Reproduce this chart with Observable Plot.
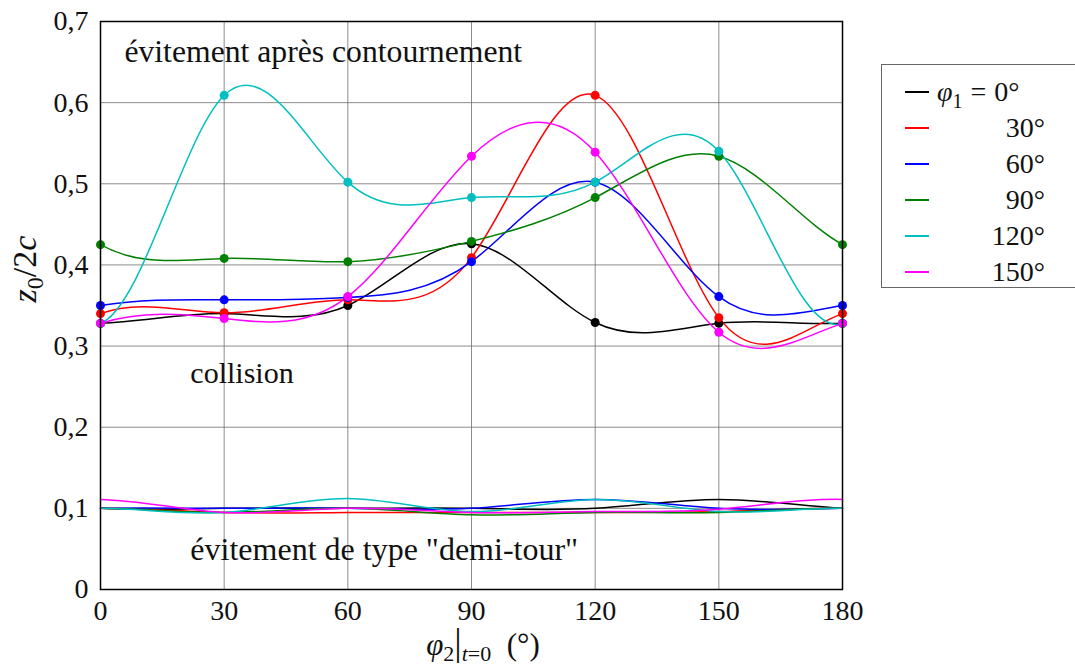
<!DOCTYPE html>
<html>
<head>
<meta charset="utf-8">
<script src="https://cdn.jsdelivr.net/npm/d3@7"></script>
<script src="https://cdn.jsdelivr.net/npm/@observablehq/plot@0.6"></script>
<style>
  html, body { margin: 0; padding: 0; background: #fff; }
  #wrap { position: relative; width: 1075px; height: 669px; overflow: hidden; font-family: 'Liberation Serif'; color: #111; }
  #legend { position: absolute; left: 881px; top: 64px; width: 230px; height: 224px; border: 1.5px solid #666; box-sizing: border-box; font-family: 'Liberation Serif'; }
  .row { position: absolute; left: 0; height: 36px; width: 200px; }
  .swatch { position: absolute; left: 23px; width: 24px; height: 1.5px; }
  .lab { position: absolute; font-size: 28px; white-space: nowrap; line-height: 36px; font-family: 'Liberation Serif'; }
  svg text { font-family: 'Liberation Serif'; }
</style>
</head>
<body>
<div id="wrap"></div>
<script>
// phi2 at t=0 (degrees)
const phi2 = [0, 30, 60, 90, 120, 150, 180];
// phi1 series
const phi1 = [0, 30, 60, 90, 120, 150];
const colors = ["#000000", "#ff0000", "#0000ff", "#008000", "#00bfbf", "#ff00ff"];

// upper branch (with markers)
const upper0   = [0.328, 0.340, 0.350, 0.426, 0.329, 0.328, 0.328];
const upper30  = [0.340, 0.341, 0.357, 0.409, 0.609, 0.335, 0.340];
const upper60  = [0.350, 0.357, 0.360, 0.404, 0.502, 0.361, 0.350];
const upper90  = [0.425, 0.408, 0.404, 0.429, 0.483, 0.534, 0.425];
const upper120 = [0.328, 0.609, 0.502, 0.483, 0.502, 0.540, 0.328];
const upper150 = [0.328, 0.334, 0.361, 0.534, 0.539, 0.317, 0.328];

// lower branch ("demi-tour"), no markers
const lower0   = [0.100, 0.100, 0.100, 0.100, 0.100, 0.111, 0.100];
const lower30  = [0.100, 0.095, 0.095, 0.095, 0.095, 0.096, 0.100];
const lower60  = [0.100, 0.100, 0.100, 0.100, 0.111, 0.100, 0.100];
const lower90  = [0.100, 0.095, 0.100, 0.092, 0.095, 0.095, 0.100];
const lower120 = [0.100, 0.095, 0.112, 0.096, 0.111, 0.096, 0.100];
const lower150 = [0.111, 0.095, 0.100, 0.095, 0.096, 0.099, 0.111];

const yTicks = [0, 0.1, 0.2, 0.3, 0.4, 0.5, 0.6, 0.7];
const xTicks = [0, 30, 60, 90, 120, 150, 180];

const uppers = [upper0, upper30, upper60, upper90, upper120, upper150];
const lowers = [lower0, lower30, lower60, lower90, lower120, lower150];

const upperData = [];
const lowerData = [];
phi1.forEach((p, i) => {
  phi2.forEach((x, j) => {
    upperData.push({series: i, x, y: uppers[i][j]});
    lowerData.push({series: i, x, y: lowers[i][j]});
  });
});

// periodic cubic spline as a d3 curve factory
function solve(A, b) {
  const n = b.length;
  for (let k = 0; k < n; k++) {
    let p = k;
    for (let i = k + 1; i < n; i++) if (Math.abs(A[i][k]) > Math.abs(A[p][k])) p = i;
    [A[k], A[p]] = [A[p], A[k]]; [b[k], b[p]] = [b[p], b[k]];
    for (let i = k + 1; i < n; i++) {
      const f = A[i][k] / A[k][k];
      for (let j = k; j < n; j++) A[i][j] -= f * A[k][j];
      b[i] -= f * b[k];
    }
  }
  const x = new Array(n).fill(0);
  for (let i = n - 1; i >= 0; i--) {
    let s = b[i];
    for (let j = i + 1; j < n; j++) s -= A[i][j] * x[j];
    x[i] = s / A[i][i];
  }
  return x;
}
function curvePeriodic(context) {
  let xs, ys;
  return {
    areaStart() {}, areaEnd() {},
    lineStart() { xs = []; ys = []; },
    point(x, y) { xs.push(+x); ys.push(+y); },
    lineEnd() {
      const n = xs.length;
      if (n === 0) return;
      context.moveTo(xs[0], ys[0]);
      if (n < 4) { for (let i = 1; i < n; i++) context.lineTo(xs[i], ys[i]); return; }
      const h = [], d = [];
      for (let i = 0; i < n - 1; i++) { h.push(xs[i + 1] - xs[i]); d.push((ys[i + 1] - ys[i]) / h[i]); }
      const N = n - 1;
      const A = Array.from({length: N}, () => new Array(N).fill(0));
      const b = new Array(N).fill(0);
      for (let i = 0; i < N; i++) {
        const ip = (i - 1 + N) % N, inx = (i + 1) % N;
        const hp = h[ip], hc = h[i];
        A[i][ip] += hc; A[i][i] += 2 * (hp + hc); A[i][inx] += hp;
        b[i] = 3 * (hc * d[ip] + hp * d[i]);
      }
      const m = solve(A, b);
      m.push(m[0]);
      for (let i = 0; i < n - 1; i++) {
        const t = h[i] / 3;
        context.bezierCurveTo(xs[i] + t, ys[i] + m[i] * t, xs[i + 1] - t, ys[i + 1] - m[i + 1] * t, xs[i + 1], ys[i + 1]);
      }
    }
  };
}

const fmt = d => d === 0 ? "0" : d.toFixed(1).replace(".", ",");
const FONT = "Liberation Serif";

const plot = Plot.plot({
  width: 1075,
  height: 669,
  marginLeft: 100,
  marginRight: 233,
  marginTop: 21,
  marginBottom: 80,
  style: {fontFamily: FONT, fontSize: "28px", color: "#111", background: "transparent", overflow: "visible"},
  x: {domain: [0, 180], ticks: xTicks, tickFormat: d => String(d), tickSize: 0, tickPadding: 11, label: null},
  y: {domain: [0, 0.7], ticks: yTicks, tickFormat: fmt, tickSize: 0, tickPadding: 12, label: null},
  marks: [
    Plot.gridX(xTicks.slice(1, -1), {stroke: "#6f6f6f", strokeOpacity: 0.8, strokeWidth: 1}),
    Plot.gridY(yTicks.slice(1, -1), {stroke: "#6f6f6f", strokeOpacity: 0.8, strokeWidth: 1}),
    Plot.line(lowerData, {x: "x", y: "y", z: "series", stroke: d => colors[d.series], curve: curvePeriodic, strokeWidth: 1.5}),
    Plot.line(upperData, {x: "x", y: "y", z: "series", stroke: d => colors[d.series], curve: curvePeriodic, strokeWidth: 1.5}),
    Plot.dot(upperData, {x: "x", y: "y", fill: d => colors[d.series], r: 4.5}),
    Plot.text(["évitement après contournement"], {x: 5.8, y: 0.65, text: d => d, textAnchor: "start", lineAnchor: "bottom", fontSize: 31.7, fontFamily: FONT, fill: "#111"}),
    Plot.text(["collision"], {x: 21.8, y: 0.254, text: d => d, textAnchor: "start", lineAnchor: "bottom", fontSize: 30, fontFamily: FONT, fill: "#111"}),
    Plot.text(['évitement de type "demi-tour"'], {x: 21.8, y: 0.036, text: d => d, textAnchor: "start", lineAnchor: "bottom", fontSize: 32, fontFamily: FONT, fill: "#111"}),
    Plot.frame({stroke: "#000", strokeWidth: 1.5})
  ]
});

const wrap = document.getElementById("wrap");
wrap.appendChild(plot);

// axis labels with math-like formatting
const svg = d3.select(plot);
const yl = svg.append("text")
  .attr("transform", "translate(36,269) rotate(-90)")
  .attr("text-anchor", "middle")
  .attr("font-family", FONT)
  .attr("font-size", 34)
  .attr("fill", "#111");
yl.append("tspan").attr("font-style", "italic").text("z");
yl.append("tspan").attr("font-size", 24).attr("dy", 7).text("0");
yl.append("tspan").attr("dy", -7).text("/2");
yl.append("tspan").attr("font-style", "italic").text("c");

const xl = svg.append("text")
  .attr("x", 483).attr("y", 655)
  .attr("text-anchor", "middle")
  .attr("font-family", FONT)
  .attr("font-size", 31)
  .attr("fill", "#111");
xl.append("tspan").attr("font-style", "italic").text("φ");
xl.append("tspan").attr("font-size", 22).attr("dy", 6).text("2");
xl.append("tspan").attr("dy", -6).attr("font-size", 37).text("|");
xl.append("tspan").attr("font-size", 22).attr("dy", 6).attr("font-style", "italic").text("t");
xl.append("tspan").attr("font-size", 22).text("=0");
xl.append("tspan").attr("dy", -6).text("  (°)");

// legend
const legend = document.createElement("div");
legend.id = "legend";
wrap.appendChild(legend);
phi1.forEach((p, i) => {
  const row = document.createElement("div");
  row.className = "row";
  row.style.top = (9 + i * 36) + "px";
  const sw = document.createElement("div");
  sw.className = "swatch";
  sw.style.top = "17px";
  sw.style.background = colors[i];
  row.appendChild(sw);
  const lab = document.createElement("div");
  lab.className = "lab";
  lab.style.top = "0px";
  if (i === 0) {
    lab.style.left = "55px";
    lab.innerHTML = '<i>φ</i><sub style="font-size:20px;line-height:0">1</sub><span style="margin:0 8px">=</span>' + p + "°";
  } else {
    lab.style.right = "37px";
    lab.textContent = p + "°";
  }
  row.appendChild(lab);
  legend.appendChild(row);
});
</script>
</body>
</html>
